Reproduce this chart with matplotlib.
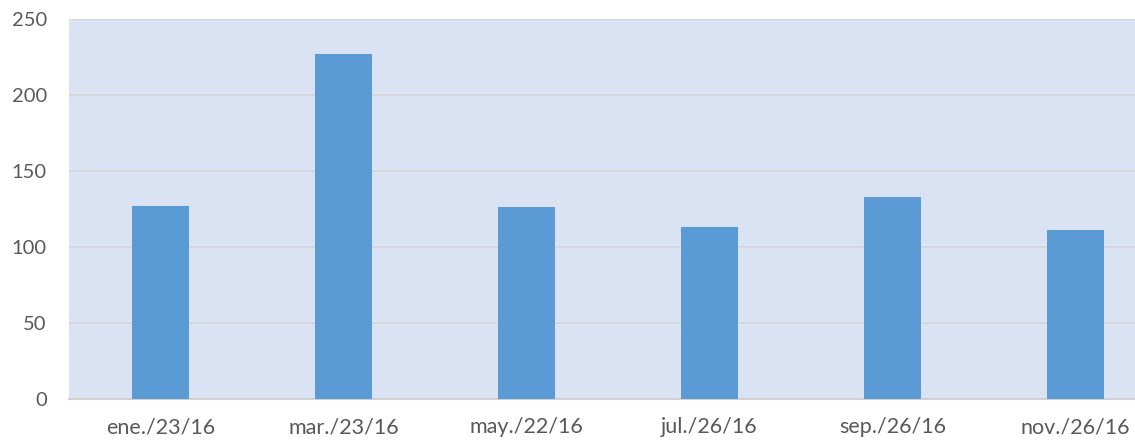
import matplotlib.pyplot as plt

# ---------- DATOS ----------
fechas = ['ene./23/16', 'mar./23/16', 'may./22/16', 'jul./26/16', 'sep./26/16', 'nov./26/16']
valores = [127, 227, 126, 113, 133, 111]
y_ticks = [0, 50, 100, 150, 200, 250]

# ---------- GRAFICO ----------
plt.rcParams['font.family'] = ['Lato', 'DejaVu Sans']

fig = plt.figure(figsize=(11.35, 4.43), dpi=100)
# el area del grafico se sale un poco por la derecha, como en la imagen original
ax = fig.add_axes([69 / 1135, 44 / 443, 1098 / 1135, 380 / 443])
ax.set_facecolor('#DAE3F3')

x = range(len(fechas))
ax.bar(x, valores, width=0.31, color='#5B9BD5', zorder=3)

ax.set_xlim(-0.5, len(fechas) - 0.5)
ax.set_ylim(0, 250)
ax.set_yticks(y_ticks)
ax.set_xticks(list(x))
ax.set_xticklabels(fechas)

ax.grid(axis='y', color='#D5D5D5', linewidth=1.2, zorder=1)
for s in ['top', 'right', 'left']:
    ax.spines[s].set_visible(False)
ax.spines['bottom'].set_color('#D0D0D0')
ax.spines['bottom'].set_linewidth(1.5)

ax.tick_params(axis='both', length=0, labelcolor='#595959')
ax.tick_params(axis='x', pad=13, labelsize=15.5)
ax.tick_params(axis='y', pad=16, labelsize=14.5)

fig.savefig('out.png', dpi=100)
